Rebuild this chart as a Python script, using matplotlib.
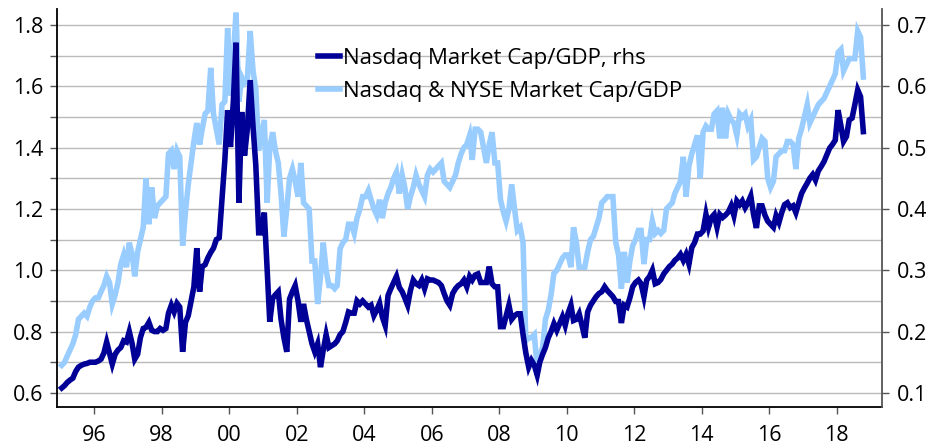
import matplotlib as mpl
mpl.use("Agg")
import matplotlib.pyplot as plt
import matplotlib.dates as mdates
import matplotlib.ticker as mticker
import numpy as np
import pandas as pd

mpl.rcParams.update({'font.family': 'Open Sans', 'font.size': 15.5})

# monthly data, Jan 1995 - Oct 2018
nasdaq_nyse = [  # left axis
    0.69, 0.70, 0.72, 0.74, 0.76, 0.79, 0.84, 0.85, 0.86, 0.85, 0.88, 0.90,  # 1995
    0.91, 0.91, 0.93, 0.95, 0.98, 0.96, 0.89, 0.92, 0.96, 1.02, 1.05, 1.01,  # 1996
    1.09, 1.05, 0.98, 1.06, 1.10, 1.14, 1.30, 1.15, 1.27, 1.17, 1.21, 1.22,  # 1997
    1.23, 1.24, 1.38, 1.39, 1.33, 1.39, 1.37, 1.08, 1.19, 1.28, 1.35, 1.42,  # 1998
    1.48, 1.41, 1.46, 1.51, 1.52, 1.66, 1.51, 1.46, 1.41, 1.54, 1.55, 1.79,  # 1999
    1.57, 1.70, 1.84, 1.55, 1.63, 1.61, 1.62, 1.78, 1.65, 1.59, 1.39, 1.44,  # 2000
    1.49, 1.22, 1.40, 1.45, 1.39, 1.35, 1.25, 1.11, 1.20, 1.30, 1.33, 1.29,  # 2001
    1.24, 1.35, 1.22, 1.21, 1.20, 1.03, 1.03, 0.89, 0.98, 1.09, 1.00, 0.95,  # 2002
    0.95, 0.94, 0.95, 1.07, 1.09, 1.10, 1.15, 1.15, 1.12, 1.17, 1.20, 1.24,  # 2003
    1.24, 1.26, 1.23, 1.20, 1.18, 1.23, 1.17, 1.22, 1.25, 1.27, 1.30, 1.32,  # 2004
    1.25, 1.31, 1.27, 1.20, 1.24, 1.27, 1.31, 1.28, 1.26, 1.24, 1.31, 1.33,  # 2005
    1.32, 1.33, 1.34, 1.35, 1.29, 1.28, 1.27, 1.29, 1.31, 1.35, 1.38, 1.40,  # 2006
    1.41, 1.44, 1.36, 1.46, 1.46, 1.45, 1.40, 1.35, 1.41, 1.45, 1.35, 1.35,  # 2007
    1.23, 1.19, 1.16, 1.20, 1.28, 1.20, 1.13, 1.14, 1.09, 0.77, 0.78, 0.78,  # 2008
    0.79, 0.68, 0.72, 0.75, 0.84, 0.87, 0.92, 0.99, 1.00, 1.02, 1.04, 1.05,  # 2009
    1.05, 1.01, 1.14, 1.09, 1.01, 1.01, 1.01, 1.06, 1.10, 1.11, 1.14, 1.17,  # 2010
    1.22, 1.23, 1.24, 1.24, 1.24, 1.09, 1.05, 0.94, 1.06, 0.96, 1.03, 1.08,  # 2011
    1.10, 1.13, 1.13, 1.02, 1.10, 1.10, 1.16, 1.12, 1.13, 1.12, 1.13, 1.20,  # 2012
    1.21, 1.22, 1.25, 1.27, 1.29, 1.37, 1.24, 1.34, 1.38, 1.41, 1.44, 1.30,  # 2013
    1.45, 1.47, 1.46, 1.46, 1.51, 1.52, 1.43, 1.53, 1.43, 1.51, 1.49, 1.48,  # 2014
    1.44, 1.51, 1.50, 1.51, 1.47, 1.49, 1.36, 1.37, 1.40, 1.43, 1.42, 1.30,  # 2015
    1.27, 1.29, 1.37, 1.38, 1.39, 1.39, 1.42, 1.42, 1.41, 1.33, 1.43, 1.46,  # 2016
    1.50, 1.54, 1.48, 1.50, 1.52, 1.54, 1.55, 1.56, 1.58, 1.60, 1.62, 1.64,  # 2017
    1.71, 1.72, 1.65, 1.67, 1.69, 1.69, 1.69, 1.78, 1.76, 1.63,              # 2018
]

nasdaq = [  # right axis
    0.108, 0.112, 0.117, 0.121, 0.124, 0.135, 0.142, 0.145, 0.147, 0.148, 0.150, 0.150,  # 1995
    0.150, 0.152, 0.155, 0.165, 0.183, 0.165, 0.147, 0.163, 0.170, 0.174, 0.185, 0.183,  # 1996
    0.200, 0.180, 0.155, 0.163, 0.190, 0.205, 0.207, 0.215, 0.202, 0.200, 0.200, 0.205,  # 1997
    0.202, 0.205, 0.230, 0.243, 0.232, 0.246, 0.240, 0.167, 0.215, 0.226, 0.250, 0.273,  # 1998
    0.336, 0.265, 0.306, 0.309, 0.320, 0.329, 0.336, 0.350, 0.353, 0.415, 0.480, 0.561,  # 1999
    0.501, 0.576, 0.671, 0.410, 0.558, 0.487, 0.530, 0.610, 0.534, 0.471, 0.361, 0.361,  # 2000
    0.394, 0.302, 0.216, 0.254, 0.260, 0.265, 0.220, 0.190, 0.167, 0.253, 0.265, 0.275,  # 2001
    0.250, 0.216, 0.245, 0.220, 0.200, 0.180, 0.167, 0.180, 0.142, 0.170, 0.195, 0.174,  # 2002
    0.177, 0.180, 0.185, 0.195, 0.200, 0.215, 0.232, 0.230, 0.230, 0.250, 0.245, 0.250,  # 2003
    0.245, 0.240, 0.243, 0.226, 0.235, 0.246, 0.224, 0.210, 0.259, 0.270, 0.280, 0.290,  # 2004
    0.272, 0.265, 0.255, 0.243, 0.267, 0.284, 0.278, 0.275, 0.284, 0.270, 0.286, 0.284,  # 2005
    0.284, 0.282, 0.280, 0.275, 0.262, 0.250, 0.243, 0.262, 0.270, 0.275, 0.278, 0.284,  # 2006
    0.273, 0.290, 0.284, 0.292, 0.294, 0.280, 0.280, 0.280, 0.306, 0.278, 0.273, 0.273,  # 2007
    0.208, 0.208, 0.225, 0.243, 0.220, 0.226, 0.229, 0.229, 0.195, 0.165, 0.142, 0.153,  # 2008
    0.145, 0.129, 0.150, 0.163, 0.174, 0.190, 0.200, 0.213, 0.202, 0.213, 0.224, 0.210,  # 2009
    0.230, 0.243, 0.218, 0.220, 0.229, 0.210, 0.190, 0.232, 0.243, 0.250, 0.257, 0.262,  # 2010
    0.265, 0.273, 0.267, 0.262, 0.257, 0.249, 0.249, 0.214, 0.243, 0.240, 0.255, 0.273,  # 2011
    0.280, 0.284, 0.278, 0.257, 0.284, 0.290, 0.300, 0.278, 0.280, 0.285, 0.294, 0.300,  # 2012
    0.306, 0.310, 0.316, 0.320, 0.326, 0.316, 0.326, 0.310, 0.337, 0.345, 0.359, 0.359,  # 2013
    0.364, 0.391, 0.370, 0.386, 0.391, 0.370, 0.391, 0.386, 0.390, 0.395, 0.405, 0.389,  # 2014
    0.413, 0.407, 0.413, 0.402, 0.410, 0.421, 0.391, 0.369, 0.405, 0.405, 0.390, 0.380,  # 2015
    0.375, 0.370, 0.389, 0.378, 0.394, 0.407, 0.410, 0.402, 0.405, 0.394, 0.410, 0.425,  # 2016
    0.434, 0.442, 0.450, 0.456, 0.447, 0.462, 0.469, 0.477, 0.488, 0.499, 0.505, 0.512,  # 2017
    0.561, 0.535, 0.510, 0.518, 0.545, 0.548, 0.570, 0.594, 0.583, 0.526,                # 2018
]

dates = pd.date_range("1995-01-01", periods=len(nasdaq), freq="MS") + pd.Timedelta(days=14)

dark = '#000096'
light = '#99ccff'

fig = plt.figure(figsize=(9.41, 4.48), dpi=100)
ax = fig.add_axes([0.0606, 0.0915, 0.8767, 0.8885])
ax2 = ax.twinx()

ax.plot(dates, nasdaq_nyse, color=light, lw=4.0, solid_joinstyle='miter',
        label='Nasdaq & NYSE Market Cap/GDP')
ax2.plot(dates, nasdaq, color=dark, lw=4.0, solid_joinstyle='miter',
         label='Nasdaq Market Cap/GDP, rhs')

ax.set_xlim(pd.Timestamp("1994-11-25"), pd.Timestamp("2019-05-05"))
ax.set_ylim(0.554, 1.852)
ax2.set_ylim(0.554 / 2 - 0.2, 1.852 / 2 - 0.2)

ax.yaxis.set_major_locator(mticker.MultipleLocator(0.2))
ax.yaxis.set_minor_locator(mticker.MultipleLocator(0.1))
ax.yaxis.set_major_formatter(mticker.FormatStrFormatter('%.1f'))
ax2.yaxis.set_major_locator(mticker.MultipleLocator(0.1))
ax2.yaxis.set_major_formatter(mticker.FormatStrFormatter('%.1f'))

ax.xaxis.set_major_locator(mdates.YearLocator(2))
ax.xaxis.set_major_formatter(mdates.DateFormatter('%y'))

ax.grid(True, which='both', axis='y', color='#bbbbbb', lw=1)
ax.set_axisbelow(True)

for a in (ax, ax2):
    a.spines['top'].set_visible(False)
ax2.spines['left'].set_visible(False)
ax2.spines['bottom'].set_visible(False)
ax.spines['right'].set_visible(False)
ax2.spines['right'].set_color('#555555')
ax2.spines['right'].set_linewidth(1.3)
ax.spines['left'].set_linewidth(1.3)
ax.spines['bottom'].set_linewidth(1.3)

ax.tick_params(axis='y', which='both', length=5, width=1, color='#555555', pad=5)
ax.tick_params(axis='x', length=5, width=1, color='#555555', pad=8)
ax2.tick_params(axis='y', length=5, width=1, color='#555555', pad=6)

h1, l1 = ax2.get_legend_handles_labels()
h0, l0 = ax.get_legend_handles_labels()
ax2.legend(h1 + h0, l1 + l0, loc='upper left', bbox_to_anchor=(0.305, 0.925),
           frameon=False, handlelength=1.0, handletextpad=0.15,
           labelspacing=0.55, borderaxespad=0, fontsize=16)

fig.savefig('out.png', dpi=100)
